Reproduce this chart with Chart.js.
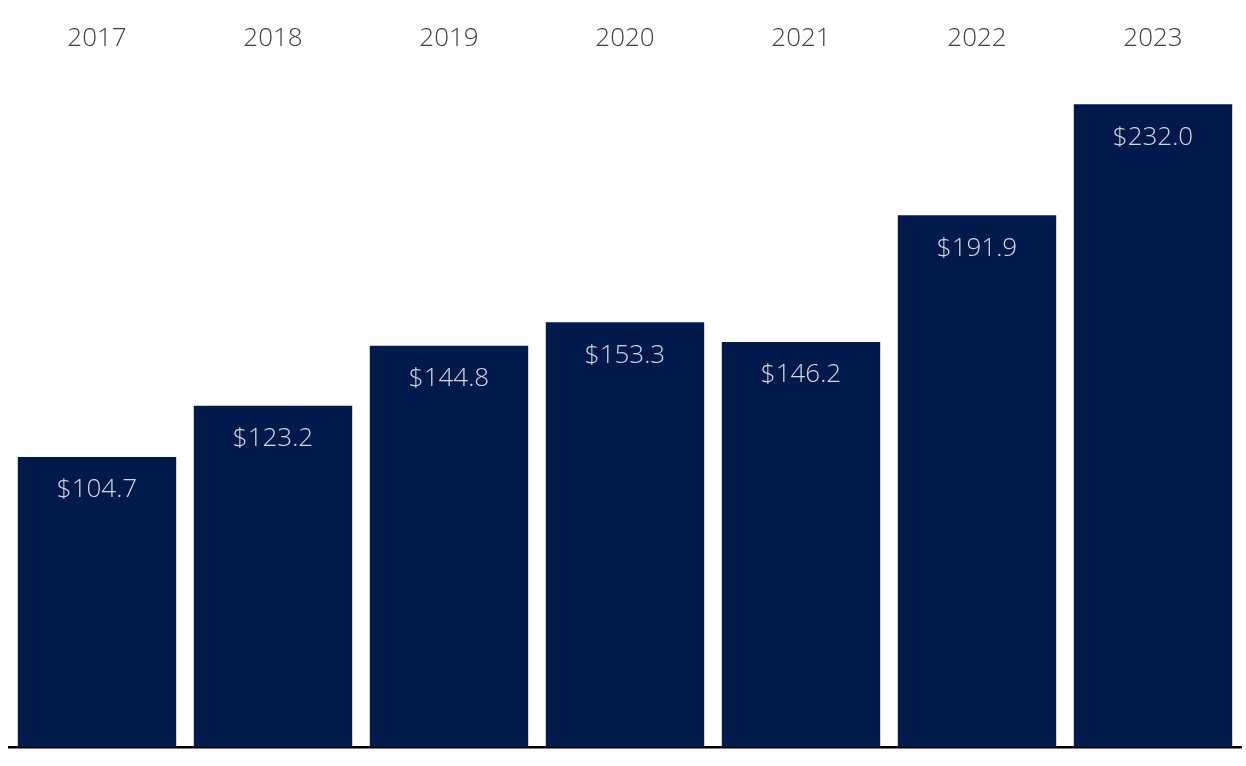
<!DOCTYPE html>
<html>
<head>
<meta charset="utf-8">
<script src="https://cdn.jsdelivr.net/npm/chart.js@4/dist/chart.umd.min.js"></script>
<style>
  html, body { margin: 0; padding: 0; background: #fff; }
  #wrap { width: 1246px; height: 766px; }
</style>
</head>
<body>
<div id="wrap"><canvas id="barChart"></canvas></div>
<script>
const years = ['2017', '2018', '2019', '2020', '2021', '2022', '2023'];
const values = [104.7, 123.2, 144.8, 153.3, 146.2, 191.9, 232.0];

// draw the $ labels inside the top of each bar
const barLabels = {
  id: 'barLabels',
  afterDatasetsDraw(chart) {
    const ctx = chart.ctx;
    const meta = chart.getDatasetMeta(0);
    ctx.save();
    ctx.font = '300 26px "Open Sans", sans-serif';
    ctx.fillStyle = '#d3d7df';
    ctx.textAlign = 'center';
    ctx.textBaseline = 'middle';
    meta.data.forEach((bar, i) => {
      ctx.fillText('$' + values[i].toFixed(1), bar.x, bar.y + 33);
    });
    ctx.restore();
  }
};

const ctx = document.getElementById('barChart').getContext('2d');
new Chart(ctx, {
  type: 'bar',
  data: {
    labels: years,
    datasets: [{
      data: values,
      backgroundColor: '#011a4b',
      categoryPercentage: 1,
      barPercentage: 0.9
    }]
  },
  options: {
    responsive: true,
    maintainAspectRatio: false,
    animation: false,
    layout: { padding: { left: 9, right: 5, top: 17, bottom: 11 } },
    plugins: { legend: { display: false }, tooltip: { enabled: false } },
    scales: {
      x: {
        position: 'top',
        grid: { display: false },
        border: { display: false },
        ticks: {
          color: '#404040',
          font: { family: '"Open Sans", sans-serif', size: 26, weight: 300 },
          padding: 6
        }
      },
      base: {
        type: 'category',
        labels: years,
        position: 'bottom',
        grid: { display: false },
        border: { display: true, color: '#000', width: 2.5 },
        ticks: { display: false }
      },
      y: {
        display: false,
        min: 0,
        max: 245
      }
    }
  },
  plugins: [barLabels]
});
</script>
</body>
</html>
